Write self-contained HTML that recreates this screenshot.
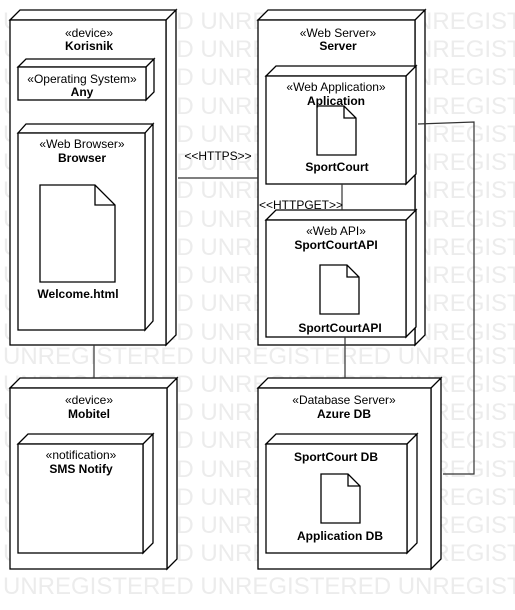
<!DOCTYPE html>
<html><head><meta charset="utf-8"><style>
html,body{margin:0;padding:0;background:#fff;width:515px;height:610px;overflow:hidden}
svg text{font-family:"Liberation Sans",sans-serif;font-size:12px;fill:#000}
.wm{font-size:24px;fill:#ececec}
.b{font-weight:bold}
</style></head><body>
<svg width="515" height="610" xmlns="http://www.w3.org/2000/svg">
<g class="wmg">
<text class="wm" x="3" y="29">UNREGISTERED UNREGISTERED UNREGISTERED</text>
<text class="wm" x="3" y="57">UNREGISTERED UNREGISTERED UNREGISTERED</text>
<text class="wm" x="3" y="85">UNREGISTERED UNREGISTERED UNREGISTERED</text>
<text class="wm" x="3" y="114">UNREGISTERED UNREGISTERED UNREGISTERED</text>
<text class="wm" x="3" y="142">UNREGISTERED UNREGISTERED UNREGISTERED</text>
<text class="wm" x="3" y="170">UNREGISTERED UNREGISTERED UNREGISTERED</text>
<text class="wm" x="3" y="198">UNREGISTERED UNREGISTERED UNREGISTERED</text>
<text class="wm" x="3" y="227">UNREGISTERED UNREGISTERED UNREGISTERED</text>
<text class="wm" x="3" y="255">UNREGISTERED UNREGISTERED UNREGISTERED</text>
<text class="wm" x="3" y="283">UNREGISTERED UNREGISTERED UNREGISTERED</text>
<text class="wm" x="3" y="311">UNREGISTERED UNREGISTERED UNREGISTERED</text>
<text class="wm" x="3" y="340">UNREGISTERED UNREGISTERED UNREGISTERED</text>
<text class="wm" x="3" y="364">UNREGISTERED UNREGISTERED UNREGISTERED</text>
<text class="wm" x="3" y="392">UNREGISTERED UNREGISTERED UNREGISTERED</text>
<text class="wm" x="3" y="420">UNREGISTERED UNREGISTERED UNREGISTERED</text>
<text class="wm" x="3" y="448">UNREGISTERED UNREGISTERED UNREGISTERED</text>
<text class="wm" x="3" y="477">UNREGISTERED UNREGISTERED UNREGISTERED</text>
<text class="wm" x="3" y="505">UNREGISTERED UNREGISTERED UNREGISTERED</text>
<text class="wm" x="3" y="533">UNREGISTERED UNREGISTERED UNREGISTERED</text>
<text class="wm" x="3" y="561">UNREGISTERED UNREGISTERED UNREGISTERED</text>
<text class="wm" x="3" y="594">UNREGISTERED UNREGISTERED UNREGISTERED</text>
</g>
<g fill="#fff" stroke="#000" stroke-width="1.3">
<path d="M10,20 L20,10 L176,10 L166,20 Z M166,20 L176,10 L176,335 L166,345 Z"/>
<rect x="10" y="20" width="156" height="325"/>
<path d="M18,67 L26,59 L154,59 L146,67 Z M146,67 L154,59 L154,92 L146,100 Z"/>
<rect x="18" y="67" width="128" height="33"/>
<path d="M18,133 L26,124 L153,124 L145,133 Z M145,133 L153,124 L153,321 L145,330 Z"/>
<rect x="18" y="133" width="127" height="197"/>
<path d="M40,185 L95,185 L115,205 L115,282 L40,282 Z M95,185 L95,205 L115,205"/>
<path d="M258,20 L268,10 L425,10 L415,20 Z M415,20 L425,10 L425,335 L415,345 Z"/>
<rect x="258" y="20" width="157" height="325"/>
<path d="M266,76 L276,66 L416,66 L406,76 Z M406,76 L416,66 L416,174 L406,184 Z"/>
<rect x="266" y="76" width="140" height="108"/>
<path d="M317,106 L344,106 L356,118 L356,155 L317,155 Z M344,106 L344,118 L356,118"/>
<path d="M266,220 L276,210 L416,210 L406,220 Z M406,220 L416,210 L416,327 L406,337 Z"/>
<rect x="266" y="220" width="140" height="117"/>
<path d="M320,265 L347,265 L359,277 L359,314 L320,314 Z M347,265 L347,277 L359,277"/>
<path d="M10,388 L20,378 L177,378 L167,388 Z M167,388 L177,378 L177,559 L167,569 Z"/>
<rect x="10" y="388" width="157" height="181"/>
<path d="M18,444 L28,434 L153,434 L143,444 Z M143,444 L153,434 L153,543 L143,553 Z"/>
<rect x="18" y="444" width="125" height="109"/>
<path d="M258,388 L268,378 L441,378 L431,388 Z M431,388 L441,378 L441,559 L431,569 Z"/>
<rect x="258" y="388" width="173" height="181"/>
<path d="M266,444 L276,434 L417,434 L407,444 Z M407,444 L417,434 L417,543 L407,553 Z"/>
<rect x="266" y="444" width="141" height="109"/>
<path d="M321,474 L348,474 L360,486 L360,523 L321,523 Z M348,474 L348,486 L360,486"/>
</g>
<g fill="none" stroke="#333" stroke-width="1.2">
<path d="M178,178 L258,178"/>
<path d="M342,184 L342,210"/>
<path d="M345,337 L345,378"/>
<path d="M94,345 L94,378"/>
<path d="M418,124 L474,122 L474,474 L443,474"/>
</g>
<g text-anchor="middle">
<text x="89" y="37">«device»</text><text class="b" x="89" y="50">Korisnik</text>
<text x="82" y="83">«Operating System»</text><text class="b" x="82" y="96">Any</text>
<text x="82" y="148">«Web Browser»</text><text class="b" x="82" y="162">Browser</text>
<text class="b" x="78" y="298">Welcome.html</text>
<text x="218" y="160">&lt;&lt;HTTPS&gt;&gt;</text>
<text x="338" y="37">«Web Server»</text><text class="b" x="338" y="50">Server</text>
<text x="336" y="91">«Web Application»</text><text class="b" x="336" y="105">Aplication</text>
<text class="b" x="337" y="171">SportCourt</text>
<text x="301" y="209">&lt;&lt;HTTPGET&gt;&gt;</text>
<text x="336" y="235">«Web API»</text><text class="b" x="336" y="249">SportCourtAPI</text>
<text class="b" x="340" y="332">SportCourtAPI</text>
<text x="89" y="404">«device»</text><text class="b" x="89" y="418">Mobitel</text>
<text x="81" y="459">«notification»</text><text class="b" x="81" y="473">SMS Notify</text>
<text x="344" y="404">«Database Server»</text><text class="b" x="344" y="418">Azure DB</text>
<text class="b" x="336" y="461">SportCourt DB</text>
<text class="b" x="340" y="540">Application DB</text>
</g>
</svg>
</body></html>
